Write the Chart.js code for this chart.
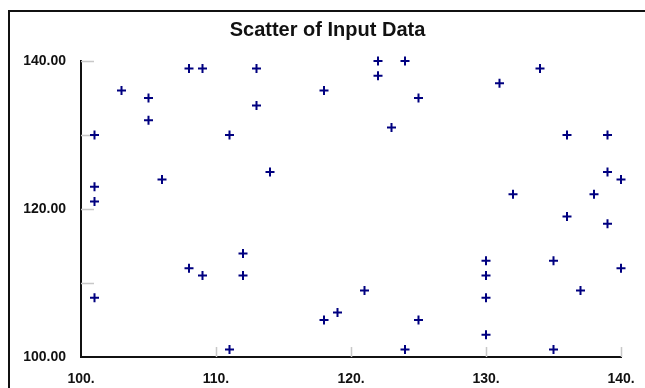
<!DOCTYPE html>
<html>
<head>
<meta charset="utf-8">
<script src="https://cdn.jsdelivr.net/npm/chart.js@4/dist/chart.umd.min.js"></script>
<style>
    html, body { margin: 0; padding: 0; background: #fff; overflow: hidden; }
    #frame { position: absolute; left: 8px; top: 10px; width: 700px; height: 450px; border: 2px solid #111; }
    #chart { position: absolute; left: 0; top: 0; }
</style>
</head>
<body>
<div id="frame"></div>
<canvas id="chart" width="645" height="388"></canvas>
<script>
const xValues = [101, 101, 101, 101, 103, 105, 105, 106, 108, 109, 111, 113, 113, 114, 108, 109,
    112, 112, 111, 118, 122, 122, 124, 123, 125, 118, 119, 121, 124, 125, 131, 134,
    136, 132, 136, 139, 139, 138, 140, 139, 130, 130, 130, 130, 135, 137, 140, 135];
const yValues = [130, 123, 121, 108, 136, 135, 132, 124, 139, 139, 130, 139, 134, 125, 112, 111,
    114, 111, 101, 136, 140, 138, 140, 131, 135, 105, 106, 109, 101, 105, 137, 139,
    130, 122, 119, 130, 125, 122, 124, 118, 113, 111, 108, 103, 113, 109, 112, 101];
const xTicks = [100, 110, 120, 130, 140];
const yTicks = [100, 110, 120, 130, 140];
const yLabelled = [100, 120, 140];

const points = xValues.map((x, i) => ({ x: x, y: yValues[i] }));
const labelFont = { family: 'Liberation Sans, Arial, sans-serif', size: 14, weight: 'bold' };

// short grey tick marks drawn inside the plot area
const innerTicks = {
    id: 'innerTicks',
    beforeDatasetsDraw(chart) {
        const { ctx, chartArea, scales } = chart;
        ctx.save();
        ctx.strokeStyle = '#c8c8c8';
        ctx.lineWidth = 1.5;
        ctx.beginPath();
        yTicks.slice(1).forEach(v => {
            const y = Math.round(scales.y.getPixelForValue(v)) + 0.5;
            ctx.moveTo(chartArea.left, y);
            ctx.lineTo(chartArea.left + 13, y);
        });
        xTicks.slice(1).forEach(v => {
            const x = Math.round(scales.x.getPixelForValue(v)) + 0.5;
            ctx.moveTo(x, chartArea.bottom);
            ctx.lineTo(x, chartArea.bottom - 10);
        });
        ctx.stroke();
        ctx.restore();
    }
};

new Chart(document.getElementById('chart').getContext('2d'), {
    type: 'scatter',
    data: {
        datasets: [{
            data: points,
            pointStyle: 'cross',
            pointRadius: 4.5,
            pointBorderWidth: 2,
            borderColor: '#000080',
            backgroundColor: '#000080',
            clip: false
        }]
    },
    options: {
        responsive: false,
        animation: false,
        layout: { padding: { left: 10, right: 0, top: 12, bottom: 0 } },
        plugins: {
            legend: { display: false },
            tooltip: { enabled: false },
            title: {
                display: true,
                text: 'Scatter of Input Data',
                color: '#111',
                font: { family: 'Liberation Sans, Arial, sans-serif', size: 20, weight: 'bold' },
                padding: { top: 6, bottom: 19 }
            }
        },
        scales: {
            x: {
                type: 'linear',
                min: 100,
                max: 140,
                afterBuildTicks: scale => { scale.ticks = xTicks.map(v => ({ value: v })); },
                afterFit: scale => {
                    scale.height = 31;
                    scale.paddingLeft = 0;
                    scale.paddingRight = 0;
                },
                ticks: {
                    color: '#111',
                    font: labelFont,
                    padding: 14,
                    maxRotation: 0,
                    callback: v => v + '.'
                },
                grid: { display: false, drawTicks: false },
                border: { display: true, color: '#111', width: 2 }
            },
            y: {
                type: 'linear',
                min: 100,
                max: 140,
                afterBuildTicks: scale => { scale.ticks = yTicks.map(v => ({ value: v })); },
                afterFit: scale => { scale.width = 71; },
                ticks: {
                    color: '#111',
                    font: labelFont,
                    padding: 15,
                    callback: v => yLabelled.includes(v) ? v.toFixed(2) : ''
                },
                grid: { display: false, drawTicks: false },
                border: { display: true, color: '#111', width: 2 }
            },
            // empty margin on the right of the plot
            spacer: {
                type: 'linear',
                position: 'right',
                afterFit: scale => { scale.width = 24; },
                ticks: { display: false },
                grid: { display: false, drawTicks: false },
                border: { display: false }
            }
        }
    },
    plugins: [innerTicks]
});
</script>
</body>
</html>
